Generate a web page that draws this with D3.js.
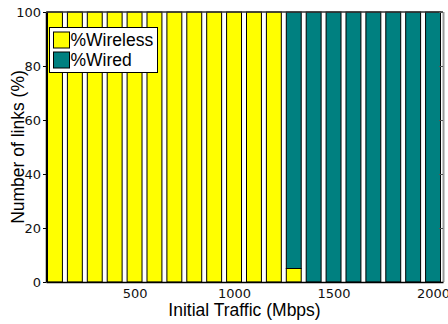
<!DOCTYPE html>
<html>
<head>
<meta charset="utf-8">
<script src="https://cdn.jsdelivr.net/npm/d3@7"></script>
<style>
  html, body { margin: 0; padding: 0; background: #fff; }
  svg { display: block; }
</style>
</head>
<body>
<svg id="chart" width="448" height="324"></svg>
<script>
// Initial traffic levels (Mbps), one bar each
const traffic = [100, 200, 300, 400, 500, 600, 700, 800, 900, 1000,
                 1100, 1200, 1300, 1400, 1500, 1600, 1700, 1800, 1900, 2000];
// Share of links per traffic level (%)
const wireless = [100, 100, 100, 100, 100, 100, 100, 100, 100, 100,
                  100, 100, 5, 0, 0, 0, 0, 0, 0, 0];
const wired = [0, 0, 0, 0, 0, 0, 0, 0, 0, 0,
               0, 0, 95, 100, 100, 100, 100, 100, 100, 100];
const seriesNames = ["%Wireless", "%Wired"];
const seriesColors = ["#ffff00", "#008080"];
const xTicks = [500, 1000, 1500, 2000];
const yTicks = [0, 20, 40, 60, 80, 100];

const svg = d3.select("#chart");
const plotL = 46, plotR = 443, plotT = 12, plotB = 282;

const x = d3.scaleLinear().domain([55, 2050]).range([plotL, plotR]);
const y = d3.scaleLinear().domain([0, 100]).range([plotB, plotT]);
const barW = x(75) - x(0);

const rows = traffic.map((t, i) => ({ t, w0: wireless[i], w1: wired[i] }));
const layers = d3.stack().keys(["w0", "w1"])(rows);

// stacked bars
svg.append("g").selectAll("g")
  .data(layers)
  .join("g")
  .attr("fill", (d, i) => seriesColors[i])
  .selectAll("rect")
  .data(d => d.filter(s => s[1] - s[0] > 0))
  .join("rect")
  .attr("x", d => x(d.data.t) - barW / 2)
  .attr("width", barW)
  .attr("y", d => y(d[1]))
  .attr("height", d => y(d[0]) - y(d[1]))
  .attr("stroke", "#000")
  .attr("stroke-width", 1);

const tickFont = "'DejaVu Sans', sans-serif";
const labelFont = "'Liberation Sans', Arial, sans-serif";

// frame: top and right edges
svg.append("line")
  .attr("x1", plotL).attr("x2", plotR).attr("y1", plotT).attr("y2", plotT)
  .attr("stroke", "#333").attr("stroke-width", 1.5);
svg.append("line")
  .attr("x1", plotR + 0.5).attr("x2", plotR + 0.5).attr("y1", plotT).attr("y2", plotB)
  .attr("stroke", "#999").attr("stroke-width", 2);

// right-side inward ticks
svg.append("g")
  .attr("transform", `translate(${plotR},0)`)
  .call(d3.axisLeft(y).tickValues(yTicks).tickSize(4).tickFormat(""))
  .call(g => g.select(".domain").remove())
  .call(g => g.selectAll("line").attr("stroke", "#555"));

// left axis
const yAxis = svg.append("g")
  .attr("transform", `translate(${plotL},0)`)
  .call(d3.axisLeft(y).tickValues(yTicks).tickFormat(d3.format("d"))
    .tickSizeInner(3).tickSizeOuter(0).tickPadding(2));
yAxis.select(".domain").attr("stroke", "#000").attr("stroke-width", 1.5);
yAxis.selectAll("text")
  .attr("font-family", tickFont).attr("font-size", 13).attr("fill", "#111");

// bottom axis
const xAxis = svg.append("g")
  .attr("transform", `translate(0,${plotB})`)
  .call(d3.axisBottom(x).tickValues(xTicks).tickFormat(d3.format("d"))
    .tickSizeInner(0).tickSizeOuter(0).tickPadding(7));
xAxis.select(".domain").attr("stroke", "#000").attr("stroke-width", 1.5);
xAxis.selectAll("text")
  .attr("font-family", tickFont).attr("font-size", 13).attr("fill", "#111");

// axis titles
svg.append("text")
  .attr("x", (plotL + plotR) / 2).attr("y", 316)
  .attr("text-anchor", "middle")
  .attr("font-family", labelFont).attr("font-size", 17.5).attr("fill", "#000")
  .text("Initial Traffic (Mbps)");
svg.append("text")
  .attr("transform", `translate(24,${(plotT + plotB) / 2}) rotate(-90)`)
  .attr("text-anchor", "middle")
  .attr("font-family", labelFont).attr("font-size", 17.5).attr("fill", "#000")
  .text("Number of links (%)");

// legend
const legend = svg.append("g").attr("transform", "translate(49.5,27.5)");
legend.append("rect")
  .attr("width", 108).attr("height", 45)
  .attr("fill", "#fff").attr("stroke", "#000").attr("stroke-width", 1);
seriesNames.forEach((name, i) => {
  const gy = 4.5 + i * 20;
  legend.append("rect")
    .attr("x", 4).attr("y", gy).attr("width", 16).attr("height", 16)
    .attr("fill", seriesColors[i]).attr("stroke", "#000").attr("stroke-width", 1);
  legend.append("text")
    .attr("x", 21).attr("y", gy + 14)
    .attr("font-family", labelFont).attr("font-size", 17.5).attr("fill", "#000")
    .text(name);
});
</script>
</body>
</html>
